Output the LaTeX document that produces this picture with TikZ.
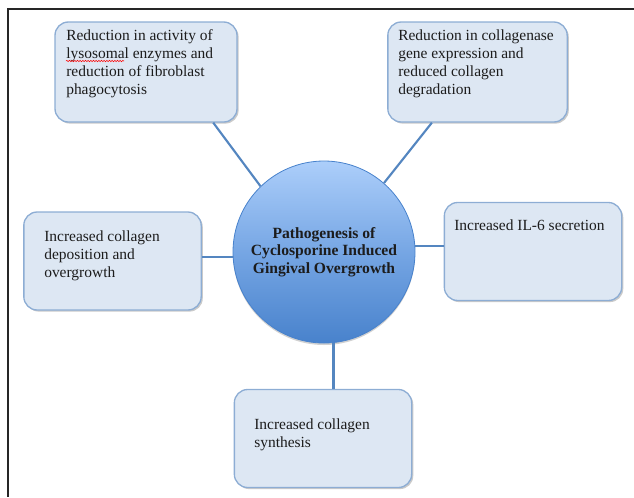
\documentclass[tikz,border=0pt]{standalone}
\usepackage{fontspec}
\setmainfont{Liberation Serif}
\usetikzlibrary{shadows,decorations.pathmorphing}
\definecolor{boxfill}{RGB}{221, 231, 243}
\definecolor{boxedge}{RGB}{141, 173, 212}
\definecolor{linkblue}{RGB}{84, 134, 192}
\definecolor{ballhigh}{RGB}{172, 206, 250}
\definecolor{ballmid}{RGB}{118, 166, 228}
\definecolor{balllow}{RGB}{72, 130, 204}
\definecolor{inkgray}{RGB}{28, 28, 28}

\tikzset{
  causebox/.style={draw=boxedge, fill=boxfill, line width=1pt, rounded corners=10pt,
                   minimum width=133pt, minimum height=73.5pt,
                   drop shadow={shadow xshift=1.2pt, shadow yshift=-1.2pt, opacity=0.35, fill=black!60}},
  causetext/.style={anchor=north west, align=left, inner sep=0pt, text=inkgray,
                    font=\fontsize{11.6}{13.5}\selectfont},
  core/.style={circle, inner sep=0pt, minimum size=136.5pt, draw=balllow, line width=0.6pt,
               top color=ballhigh, bottom color=balllow, middle color=ballmid,
               align=center, text=inkgray, font=\bfseries\fontsize{11.7}{13.3}\selectfont,
               drop shadow={shadow xshift=0pt, shadow yshift=-1.5pt, opacity=0.3, fill=black!60}},
  link/.style={draw=linkblue, line width=1.6pt},
  spellwave/.style={red, line width=0.4pt, decorate, decoration={snake, amplitude=0.5pt, segment length=2pt}},
}

\begin{document}
\begin{tikzpicture}[x=0.75pt, y=-0.75pt]
  % Frame to ensure alignment:
  \useasboundingbox (0,0) rectangle (634,497);
  \draw[black!85, line width=1.5pt] (634,9) -- (7.5,9) -- (7.5,497);

  % boxes round the centre
  \node[causebox, minimum width=136.5pt, minimum height=75pt] (tl) at (146,72)    {};
  \node[causebox, minimum width=134.5pt, minimum height=75pt] (tr) at (477.5,72)  {};
  \node[causebox]                                             (lb) at (112.5,261) {};
  \node[causebox]                                             (rb) at (533,251.5) {};
  \node[causebox]                                             (bb) at (323,438.5) {};

  % centre circle
  \node[core] (core) at (324,252) {Pathogenesis of\\Cyclosporine Induced\\Gingival Overgrowth};

  % spokes
  \draw[link] (tl.-37)  -- (core.134);
  \draw[link] (tr.228)  -- (core.49);
  \draw[link] (core.183) -- (core.183 -| lb.east);
  \draw[link] (core.4)   -- (core.4 -| rb.west);
  \draw[link] (core.-84) -- (core.-84 |- bb.north);

  % box texts
  \node[causetext] (tltext) at (66,29)   {Reduction in activity of\\lysosomal enzymes and\\reduction of fibroblast\\phagocytosis};
  \node[causetext] (trtext) at (398,29)  {Reduction in collagenase\\gene expression and\\reduced collagen\\degradation};
  \node[causetext] (lbtext) at (44,230)  {Increased collagen\\deposition and\\overgrowth};
  \node[causetext] (rbtext) at (454,219) {Increased IL-6 secretion};
  \node[causetext] (bbtext) at (254,418) {Increased collagen\\synthesis};

  % squiggle under "lysosomal"
  \draw[spellwave] (66,61) -- (124,61);
\end{tikzpicture}
\end{document}
